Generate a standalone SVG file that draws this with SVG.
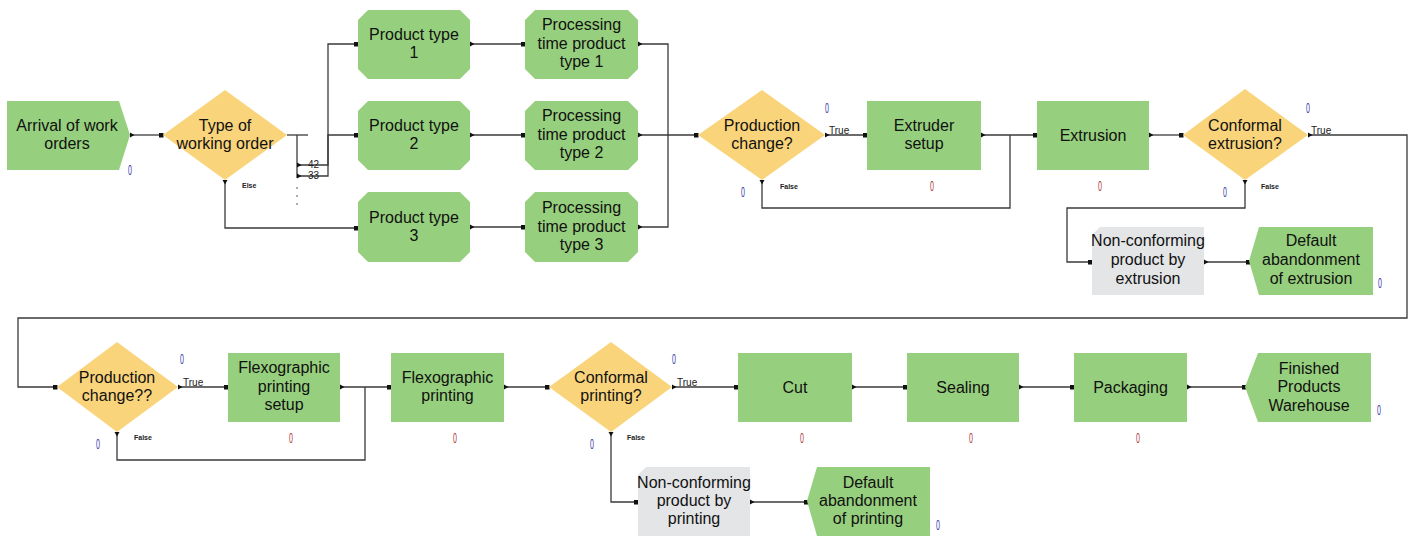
<svg xmlns="http://www.w3.org/2000/svg" width="1413" height="536" viewBox="0 0 1413 536">
<defs>
<style>
.g{fill:#96cf7d}
.d{fill:#fad47b}
.x{fill:#e4e5e7}
.t{font-family:"Liberation Sans",Arial,sans-serif;font-size:16px;fill:#111;text-anchor:middle}
.s{font-family:"Liberation Sans",Arial,sans-serif;font-size:10px;fill:#222}
.f{font-family:"Liberation Sans",Arial,sans-serif;font-size:7px;fill:#222;font-weight:bold}
.c{fill:none;stroke:#3a3a3a;stroke-width:1.3}
.cs{fill:none;stroke:#3a3a3a;stroke-width:1.3;marker-start:url(#out)}
.ce{fill:none;stroke:#3a3a3a;stroke-width:1.3;marker-end:url(#in)}
.cb{fill:none;stroke:#3a3a3a;stroke-width:1.3;marker-start:url(#out);marker-end:url(#in)}
.zb{font-family:"Liberation Sans",Arial,sans-serif;font-size:14px;fill:#3838a8;text-anchor:middle}
.zr{font-family:"Liberation Sans",Arial,sans-serif;font-size:14px;fill:#a83838;text-anchor:middle}
</style>
<marker id="out" markerWidth="6" markerHeight="6" refX="0" refY="3" orient="auto" markerUnits="userSpaceOnUse"><path d="M0,0.5 L4.5,3 L0,5.5z" fill="#111"/></marker>
<marker id="in" markerWidth="6" markerHeight="6" refX="2.5" refY="2.5" orient="auto" markerUnits="userSpaceOnUse"><rect width="5" height="5" fill="#111"/></marker>
</defs>

<g id="connectors">
<polyline class="cb" points="130,135 161,135"/>
<polyline class="c" points="287,135 308,135"/>
<polyline class="c" points="297,135 297,178"/>
<polyline class="cb" points="297,165 328,165 328,44 356,44"/>
<polyline class="cb" points="297,176 328,176 328,135 356,135"/>
<polyline class="cb" points="225,180 225,228 356,228"/>
<polyline class="cb" points="470,44 523,44"/>
<polyline class="cb" points="470,135 523,135"/>
<polyline class="cb" points="470,227 523,227"/>
<polyline class="cs" points="638,44 668,44 668,135"/>
<polyline class="cs" points="638,227 668,227 668,135"/>
<polyline class="cb" points="638,135 696,135"/>
<polyline class="cb" points="825,135 865,135"/>
<polyline class="cs" points="762,180 762,208 1010,208 1010,135"/>
<polyline class="cb" points="981,135 1035,135"/>
<polyline class="cb" points="1149,135 1181,135"/>
<polyline class="cb" points="1308,135 1407,135 1407,318 18,318 18,387 55,387"/>
<polyline class="cb" points="1245,180 1245,208 1067,208 1067,262 1090,262"/>
<polyline class="cb" points="1204,262 1248,262"/>
<polyline class="cb" points="178,387 226,387"/>
<polyline class="cs" points="117,432 117,460 365,460 365,387"/>
<polyline class="cb" points="340,387 389,387"/>
<polyline class="cb" points="504,387 547,387"/>
<polyline class="cb" points="672,387 736,387"/>
<polyline class="cb" points="611,432 611,502 636,502"/>
<polyline class="cb" points="750,502 806,502"/>
<polyline class="cb" points="852,387 905,387"/>
<polyline class="cb" points="1019,387 1072,387"/>
<polyline class="cb" points="1187,387 1244,387"/>
<g fill="#444"><circle cx="297" cy="188" r="0.8"/><circle cx="297" cy="196" r="0.8"/><circle cx="297" cy="204" r="0.8"/></g>
<text class="s" x="308" y="168">42</text>
<text class="s" x="308" y="179">33</text>
<text class="f" x="242" y="188">Else</text>
<text class="s" x="829" y="134">True</text>
<text class="f" x="780" y="189">False</text>
<text class="s" x="1311" y="134">True</text>
<text class="f" x="1261" y="189">False</text>
<text class="s" x="183" y="386">True</text>
<text class="f" x="134" y="440">False</text>
<text class="s" x="677" y="386">True</text>
<text class="f" x="627" y="440">False</text>
</g>

<g id="arrival">
<polygon class="g" points="7,101 119,101 130,135 119,170 7,170"/>
<text class="t" x="67" y="131">Arrival of work</text>
<text class="t" x="67" y="149">orders</text>
<text class="zb" transform="translate(130,175) scale(0.5,1)">0</text>
</g>

<g id="type-order">
<polygon class="d" points="163,135 225,90 287,135 225,180"/>
<text class="t" x="225" y="131">Type of</text>
<text class="t" x="225" y="149">working order</text>
</g>

<g id="product-type-1">
<polygon class="g" points="368,10 460,10 470,20 470,69 460,79 368,79 358,69 358,20"/>
<text class="t" x="414" y="40">Product type</text>
<text class="t" x="414" y="58">1</text>
</g>
<g id="product-type-2">
<polygon class="g" points="368,101 460,101 470,111 470,160 460,170 368,170 358,160 358,111"/>
<text class="t" x="414" y="131">Product type</text>
<text class="t" x="414" y="149">2</text>
</g>
<g id="product-type-3">
<polygon class="g" points="368,192 460,192 470,202 470,252 460,262 368,262 358,252 358,202"/>
<text class="t" x="414" y="223">Product type</text>
<text class="t" x="414" y="241">3</text>
</g>

<g id="processing-1">
<polygon class="g" points="535,10 628,10 638,20 638,69 628,79 535,79 525,69 525,20"/>
<text class="t" x="581.5" y="30">Processing</text>
<text class="t" x="581.5" y="48.5">time product</text>
<text class="t" x="581.5" y="67">type 1</text>
</g>
<g id="processing-2">
<polygon class="g" points="535,101 628,101 638,111 638,160 628,170 535,170 525,160 525,111"/>
<text class="t" x="581.5" y="121">Processing</text>
<text class="t" x="581.5" y="139.5">time product</text>
<text class="t" x="581.5" y="158">type 2</text>
</g>
<g id="processing-3">
<polygon class="g" points="535,192 628,192 638,202 638,252 628,262 535,262 525,252 525,202"/>
<text class="t" x="581.5" y="213">Processing</text>
<text class="t" x="581.5" y="231.5">time product</text>
<text class="t" x="581.5" y="250">type 3</text>
</g>

<g id="production-change-1">
<polygon class="d" points="698,135 762,90 825,135 762,180"/>
<text class="t" x="762" y="131">Production</text>
<text class="t" x="762" y="149">change?</text>
<text class="zb" transform="translate(827,113) scale(0.5,1)">0</text>
<text class="zb" transform="translate(743,197) scale(0.5,1)">0</text>
</g>

<g id="extruder-setup">
<rect class="g" x="867" y="101" width="114" height="69"/>
<text class="t" x="924" y="131">Extruder</text>
<text class="t" x="924" y="149">setup</text>
<text class="zr" transform="translate(932,191) scale(0.5,1)">0</text>
</g>

<g id="extrusion">
<rect class="g" x="1037" y="101" width="112" height="69"/>
<text class="t" x="1093" y="141">Extrusion</text>
<text class="zr" transform="translate(1100,191) scale(0.5,1)">0</text>
</g>

<g id="conformal-extrusion">
<polygon class="d" points="1183,135 1245,89 1308,135 1245,180"/>
<text class="t" x="1245" y="131">Conformal</text>
<text class="t" x="1245" y="149">extrusion?</text>
<text class="zb" transform="translate(1308,113) scale(0.5,1)">0</text>
<text class="zb" transform="translate(1225,197) scale(0.5,1)">0</text>
</g>

<g id="nonconforming-extrusion">
<polygon class="x" points="1100,227 1204,227 1204,295 1092,295 1092,235"/>
<text class="t" x="1148" y="246">Non-conforming</text>
<text class="t" x="1148" y="265">product by</text>
<text class="t" x="1148" y="284">extrusion</text>
</g>

<g id="abandon-extrusion">
<polygon class="g" points="1259,227 1373,227 1373,295 1259,295 1249,261"/>
<text class="t" x="1311" y="246">Default</text>
<text class="t" x="1311" y="265">abandonment</text>
<text class="t" x="1311" y="284">of extrusion</text>
<text class="zb" transform="translate(1380,288) scale(0.5,1)">0</text>
</g>

<g id="production-change-2">
<polygon class="d" points="57,387 117,342 178,387 117,432"/>
<text class="t" x="117" y="383">Production</text>
<text class="t" x="117" y="401">change??</text>
<text class="zb" transform="translate(182,364) scale(0.5,1)">0</text>
<text class="zb" transform="translate(98,449) scale(0.5,1)">0</text>
</g>

<g id="flexo-setup">
<rect class="g" x="228" y="353" width="112" height="69"/>
<text class="t" x="284" y="373">Flexographic</text>
<text class="t" x="284" y="392">printing</text>
<text class="t" x="284" y="410">setup</text>
<text class="zr" transform="translate(291,443) scale(0.5,1)">0</text>
</g>

<g id="flexo-printing">
<rect class="g" x="391" y="353" width="113" height="69"/>
<text class="t" x="447.5" y="383">Flexographic</text>
<text class="t" x="447.5" y="401">printing</text>
<text class="zr" transform="translate(455,443) scale(0.5,1)">0</text>
</g>

<g id="conformal-printing">
<polygon class="d" points="549,387 611,342 672,387 611,432"/>
<text class="t" x="611" y="383">Conformal</text>
<text class="t" x="611" y="401">printing?</text>
<text class="zb" transform="translate(674,364) scale(0.5,1)">0</text>
<text class="zb" transform="translate(592,449) scale(0.5,1)">0</text>
</g>

<g id="cut">
<rect class="g" x="738" y="353" width="114" height="69"/>
<text class="t" x="795" y="393">Cut</text>
<text class="zr" transform="translate(802,443) scale(0.5,1)">0</text>
</g>

<g id="sealing">
<rect class="g" x="907" y="353" width="112" height="69"/>
<text class="t" x="963" y="393">Sealing</text>
<text class="zr" transform="translate(971,443) scale(0.5,1)">0</text>
</g>

<g id="packaging">
<rect class="g" x="1074" y="353" width="113" height="69"/>
<text class="t" x="1130.5" y="393">Packaging</text>
<text class="zr" transform="translate(1138,443) scale(0.5,1)">0</text>
</g>

<g id="warehouse">
<polygon class="g" points="1258,353 1371,353 1371,422 1258,422 1245,387"/>
<text class="t" x="1309" y="374">Finished</text>
<text class="t" x="1309" y="392">Products</text>
<text class="t" x="1309" y="411">Warehouse</text>
<text class="zb" transform="translate(1379,415) scale(0.5,1)">0</text>
</g>

<g id="nonconforming-printing">
<polygon class="x" points="646,467 750,467 750,536 638,536 638,475"/>
<text class="t" x="694" y="488">Non-conforming</text>
<text class="t" x="694" y="506">product by</text>
<text class="t" x="694" y="524">printing</text>
</g>

<g id="abandon-printing">
<polygon class="g" points="817,467 930,467 930,536 817,536 807,501"/>
<text class="t" x="868" y="488">Default</text>
<text class="t" x="868" y="506">abandonment</text>
<text class="t" x="868" y="524">of printing</text>
<text class="zb" transform="translate(938,530) scale(0.5,1)">0</text>
</g>
</svg>
